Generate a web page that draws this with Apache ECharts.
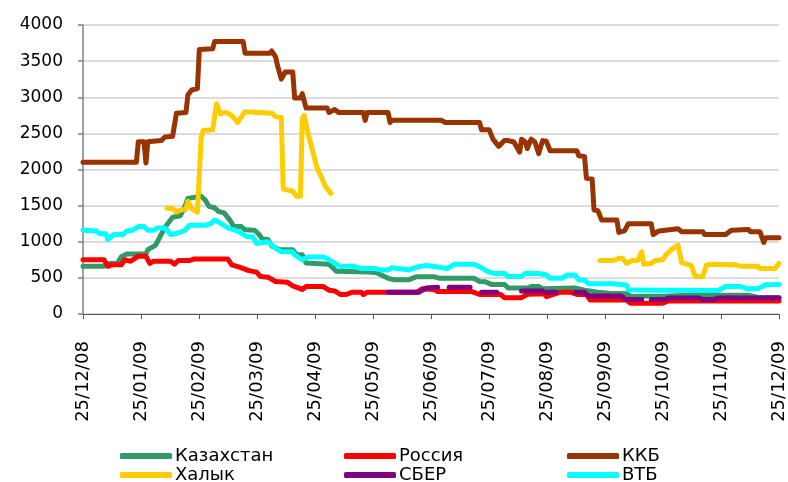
<!DOCTYPE html>
<html>
<head>
<meta charset="utf-8">
<script src="https://cdn.jsdelivr.net/npm/echarts@6/dist/echarts.min.js"></script>
<style>
  html, body { margin: 0; padding: 0; background: #fff; }
  #chart { width: 788px; height: 482px; }
</style>
</head>
<body>
<div id="chart"></div>
<script>
// x axis ticks: the 25th of every month
var tickLabels = ['25/12/08', '25/01/09', '25/02/09', '25/03/09', '25/04/09', '25/05/09',
  '25/06/09', '25/07/09', '25/08/09', '25/09/09', '25/10/09', '25/11/09', '25/12/09']
var startDate = '2008-12-25'
var endDate = '2009-12-25'

var seriesNames = ['Казахстан', 'Россия', 'ККБ', 'Халык', 'СБЕР', 'ВТБ']

var kazakhstan = [
  ['2008-12-25', 660], ['2009-01-05', 660], ['2009-01-07', 700], ['2009-01-12', 700], ['2009-01-14', 790],
  ['2009-01-17', 830], ['2009-01-27', 830], ['2009-01-28', 890], ['2009-02-01', 950], ['2009-02-04', 1100],
  ['2009-02-06', 1200], ['2009-02-10', 1340], ['2009-02-14', 1360], ['2009-02-16', 1460], ['2009-02-18', 1600],
  ['2009-02-25', 1630], ['2009-02-27', 1580], ['2009-03-01', 1490], ['2009-03-04', 1470], ['2009-03-06', 1420],
  ['2009-03-09', 1400], ['2009-03-12', 1300], ['2009-03-14', 1210], ['2009-03-18', 1210], ['2009-03-20', 1165],
  ['2009-03-25', 1160], ['2009-03-27', 1110], ['2009-03-29', 1040], ['2009-04-01', 1030], ['2009-04-03', 940],
  ['2009-04-07', 890], ['2009-04-14', 890], ['2009-04-16', 820], ['2009-04-19', 820], ['2009-04-21', 705],
  ['2009-05-03', 690], ['2009-05-07', 590], ['2009-05-24', 580], ['2009-05-28', 570], ['2009-06-03', 494],
  ['2009-06-06', 475], ['2009-06-14', 475], ['2009-06-18', 517], ['2009-06-27', 517], ['2009-06-30', 494],
  ['2009-07-18', 494], ['2009-07-21', 450], ['2009-07-24', 448], ['2009-07-27', 410], ['2009-08-03', 410],
  ['2009-08-05', 360], ['2009-08-15', 360], ['2009-08-17', 380], ['2009-08-21', 380], ['2009-08-23', 350],
  ['2009-09-09', 360], ['2009-09-14', 330], ['2009-09-21', 300], ['2009-09-27', 286], ['2009-10-06', 280],
  ['2009-10-08', 250], ['2009-10-25', 245], ['2009-11-07', 260], ['2009-12-09', 260], ['2009-12-14', 230],
  ['2009-12-25', 230]
]

var russia = [
  ['2008-12-25', 750], ['2009-01-05', 750], ['2009-01-07', 660], ['2009-01-09', 680], ['2009-01-14', 680],
  ['2009-01-16', 750], ['2009-01-19', 730], ['2009-01-23', 800], ['2009-01-27', 800], ['2009-01-29', 700],
  ['2009-01-31', 730], ['2009-02-09', 730], ['2009-02-11', 690], ['2009-02-13', 740], ['2009-02-19', 740],
  ['2009-02-21', 760], ['2009-03-11', 760], ['2009-03-13', 680], ['2009-03-17', 650], ['2009-03-22', 600],
  ['2009-03-26', 580], ['2009-03-28', 520], ['2009-04-01', 510], ['2009-04-05', 450], ['2009-04-11', 440],
  ['2009-04-14', 390], ['2009-04-19', 340], ['2009-04-21', 380], ['2009-04-30', 380], ['2009-05-03', 330],
  ['2009-05-06', 320], ['2009-05-09', 270], ['2009-05-12', 270], ['2009-05-15', 300], ['2009-05-20', 300],
  ['2009-05-21', 270], ['2009-05-23', 300], ['2009-06-18', 300], ['2009-06-21', 350], ['2009-06-27', 340],
  ['2009-06-29', 310], ['2009-07-17', 310], ['2009-07-21', 270], ['2009-08-01', 270], ['2009-08-03', 226],
  ['2009-08-12', 226], ['2009-08-15', 272], ['2009-08-24', 280], ['2009-08-25', 240], ['2009-09-01', 300],
  ['2009-09-07', 300], ['2009-09-10', 270], ['2009-09-15', 270], ['2009-09-17', 194], ['2009-10-06', 194],
  ['2009-10-08', 150], ['2009-10-25', 150], ['2009-10-28', 180], ['2009-12-25', 180]
]

var kkb = [
  ['2008-12-25', 2100], ['2009-01-22', 2100], ['2009-01-23', 2385], ['2009-01-26', 2385], ['2009-01-27', 2090],
  ['2009-01-28', 2385], ['2009-02-04', 2400], ['2009-02-06', 2450], ['2009-02-10', 2460], ['2009-02-12', 2780],
  ['2009-02-17', 2790], ['2009-02-18', 3030], ['2009-02-20', 3100], ['2009-02-23', 3120], ['2009-02-24', 3660],
  ['2009-03-03', 3670], ['2009-03-04', 3770], ['2009-03-19', 3770], ['2009-03-20', 3610], ['2009-04-02', 3610],
  ['2009-04-03', 3640], ['2009-04-05', 3560], ['2009-04-06', 3440], ['2009-04-08', 3250], ['2009-04-10', 3350],
  ['2009-04-14', 3350], ['2009-04-15', 2990], ['2009-04-18', 2990], ['2009-04-19', 3050], ['2009-04-21', 2850],
  ['2009-05-02', 2850], ['2009-05-03', 2790], ['2009-05-06', 2830], ['2009-05-08', 2790], ['2009-05-21', 2790],
  ['2009-05-22', 2680], ['2009-05-23', 2790], ['2009-06-03', 2790], ['2009-06-04', 2650], ['2009-06-05', 2680],
  ['2009-07-01', 2680], ['2009-07-03', 2650], ['2009-07-21', 2650], ['2009-07-22', 2550], ['2009-07-26', 2550],
  ['2009-07-28', 2420], ['2009-07-31', 2320], ['2009-08-03', 2400], ['2009-08-05', 2400], ['2009-08-08', 2380],
  ['2009-08-11', 2240], ['2009-08-12', 2420], ['2009-08-14', 2380], ['2009-08-15', 2290], ['2009-08-17', 2420],
  ['2009-08-19', 2380], ['2009-08-21', 2220], ['2009-08-23', 2400], ['2009-08-25', 2390], ['2009-08-27', 2260],
  ['2009-09-10', 2260], ['2009-09-11', 2190], ['2009-09-14', 2180], ['2009-09-15', 1880], ['2009-09-18', 1870],
  ['2009-09-19', 1440], ['2009-09-21', 1430], ['2009-09-23', 1300], ['2009-10-01', 1300], ['2009-10-02', 1130],
  ['2009-10-05', 1150], ['2009-10-07', 1250], ['2009-10-19', 1250], ['2009-10-20', 1100], ['2009-10-23', 1150],
  ['2009-11-02', 1180], ['2009-11-04', 1140], ['2009-11-15', 1140], ['2009-11-16', 1100], ['2009-11-27', 1100],
  ['2009-11-30', 1160], ['2009-12-09', 1170], ['2009-12-10', 1140], ['2009-12-15', 1140], ['2009-12-17', 990],
  ['2009-12-18', 1055], ['2009-12-25', 1055]
]

// gap between early May and late September
var halyk = [
  ['2009-02-07', 1465], ['2009-02-10', 1460], ['2009-02-12', 1410], ['2009-02-14', 1440], ['2009-02-17', 1450],
  ['2009-02-18', 1560], ['2009-02-20', 1460], ['2009-02-23', 1410], ['2009-02-25', 2450], ['2009-02-26', 2540],
  ['2009-03-03', 2550], ['2009-03-05', 2910], ['2009-03-07', 2770], ['2009-03-10', 2790], ['2009-03-13', 2750],
  ['2009-03-16', 2650], ['2009-03-20', 2800], ['2009-04-03', 2780], ['2009-04-05', 2730], ['2009-04-08', 2720],
  ['2009-04-09', 1730], ['2009-04-14', 1700], ['2009-04-16', 1630], ['2009-04-18', 1630], ['2009-04-19', 2700],
  ['2009-04-20', 2750], ['2009-04-22', 2500], ['2009-04-25', 2200], ['2009-04-27', 2000], ['2009-04-29', 1900],
  ['2009-05-01', 1770], ['2009-05-04', 1670], ['2009-05-05', null],
  ['2009-09-22', 740], ['2009-09-29', 740], ['2009-10-02', 770], ['2009-10-04', 770], ['2009-10-06', 700],
  ['2009-10-09', 740], ['2009-10-12', 740], ['2009-10-14', 860], ['2009-10-15', 690], ['2009-10-19', 700],
  ['2009-10-21', 740], ['2009-10-25', 750], ['2009-10-27', 830], ['2009-10-30', 900], ['2009-11-02', 950],
  ['2009-11-04', 710], ['2009-11-09', 670], ['2009-11-11', 520], ['2009-11-15', 520], ['2009-11-17', 680],
  ['2009-11-20', 690], ['2009-12-02', 680], ['2009-12-05', 660], ['2009-12-14', 660], ['2009-12-15', 630],
  ['2009-12-23', 630], ['2009-12-25', 700]
]

// broken line: missing days are null
var sber = [
  ['2009-06-03', 300], ['2009-06-19', 300], ['2009-06-23', 360], ['2009-06-29', 370], ['2009-07-02', null],
  ['2009-07-05', 370], ['2009-07-16', 370], ['2009-07-19', null],
  ['2009-07-22', 300], ['2009-07-30', 300], ['2009-08-06', null],
  ['2009-08-12', 320], ['2009-08-23', 320], ['2009-08-24', null],
  ['2009-08-25', 300], ['2009-08-30', 300], ['2009-09-04', null],
  ['2009-09-09', 300], ['2009-09-14', 300], ['2009-09-16', 250], ['2009-10-03', 250], ['2009-10-06', 200],
  ['2009-10-14', 200], ['2009-10-16', null],
  ['2009-10-19', 200], ['2009-10-26', 200], ['2009-10-28', 220], ['2009-11-13', 220], ['2009-11-15', 200],
  ['2009-11-20', 200], ['2009-11-23', 220], ['2009-12-25', 220]
]

var vtb = [
  ['2008-12-25', 1160], ['2009-01-01', 1150], ['2009-01-03', 1110], ['2009-01-06', 1110], ['2009-01-07', 1030],
  ['2009-01-10', 1100], ['2009-01-15', 1100], ['2009-01-17', 1150], ['2009-01-20', 1160], ['2009-01-23', 1210],
  ['2009-01-26', 1210], ['2009-01-28', 1160], ['2009-01-31', 1160], ['2009-02-02', 1190], ['2009-02-06', 1190],
  ['2009-02-09', 1100], ['2009-02-11', 1110], ['2009-02-16', 1150], ['2009-02-19', 1230], ['2009-02-27', 1230],
  ['2009-03-02', 1250], ['2009-03-04', 1300], ['2009-03-07', 1260], ['2009-03-11', 1190], ['2009-03-16', 1150],
  ['2009-03-21', 1070], ['2009-03-24', 1070], ['2009-03-26', 980], ['2009-04-01', 1000], ['2009-04-05', 910],
  ['2009-04-08', 860], ['2009-04-14', 860], ['2009-04-15', 820], ['2009-04-19', 750], ['2009-04-22', 790],
  ['2009-04-30', 790], ['2009-05-03', 750], ['2009-05-09', 655], ['2009-05-12', 660], ['2009-05-16', 660],
  ['2009-05-20', 630], ['2009-05-27', 630], ['2009-05-30', 610], ['2009-06-03', 610], ['2009-06-05', 640],
  ['2009-06-08', 630], ['2009-06-14', 610], ['2009-06-18', 650], ['2009-06-23', 670], ['2009-06-29', 650],
  ['2009-07-04', 630], ['2009-07-08', 690], ['2009-07-18', 690], ['2009-07-22', 640], ['2009-07-25', 590],
  ['2009-07-28', 565], ['2009-08-03', 560], ['2009-08-05', 520], ['2009-08-12', 520], ['2009-08-14', 565],
  ['2009-08-21', 560], ['2009-08-25', 540], ['2009-08-27', 495], ['2009-09-02', 495], ['2009-09-05', 540],
  ['2009-09-09', 540], ['2009-09-11', 470], ['2009-09-14', 470], ['2009-09-16', 420], ['2009-09-29', 420],
  ['2009-10-06', 400], ['2009-10-07', 335], ['2009-10-19', 330], ['2009-11-23', 325], ['2009-11-27', 380],
  ['2009-12-05', 380], ['2009-12-08', 350], ['2009-12-14', 350], ['2009-12-18', 405], ['2009-12-25', 410]
]

var colors = ['#339966', '#FF0000', '#993300', '#FFCC00', '#800080', '#00FFFF']
var seriesData = [kazakhstan, russia, kkb, halyk, sber, vtb]

function toTime (s) {
  var p = s.split('-')
  return Date.UTC(+p[0], +p[1] - 1, +p[2])
}
var minTime = toTime(startDate)
var maxTime = toTime(endDate)
// 12 equal steps between the two ends, one per month label
var step = (maxTime - minTime) / (tickLabels.length - 1)

var myChart = echarts.init(document.getElementById('chart'))

// legend: 3 columns x 2 rows, one legend box per entry
var legendLeft = [120, 344, 567]
var legendTop = [447, 466]
var legends = seriesNames.map(function (name, i) {
  return {
    left: legendLeft[i % 3],
    top: legendTop[Math.floor(i / 3)],
    data: [name],
    icon: 'roundRect',
    itemWidth: 52,
    itemHeight: 6,
    itemGap: 0,
    padding: 0,
    textStyle: { fontSize: 18, color: '#000', padding: [0, 0, 0, -2] }
  }
})

var option = {
  animation: false,
  color: colors,
  textStyle: { fontFamily: 'DejaVu Sans' },
  grid: { left: 83, right: 7, top: 25, bottom: 168 },
  legend: legends,
  xAxis: {
    type: 'value',
    min: minTime,
    max: maxTime,
    interval: step,
    axisLabel: {
      rotate: 90,
      margin: 27,
      fontSize: 18,
      color: '#000',
      formatter: function (v) {
        var i = Math.round((v - minTime) / step)
        return tickLabels[i] || ''
      }
    },
    splitLine: { lineStyle: { color: 'rgba(0,0,0,0)' } }
  },
  yAxis: {
    type: 'value',
    min: 0,
    max: 4000,
    interval: 500,
    axisLine: { show: true, lineStyle: { color: '#808080', width: 1.5 } },
    axisTick: { show: true, length: 5, lineStyle: { color: '#808080', width: 1.5 } },
    axisLabel: {
      fontSize: 17,
      color: '#000',
      margin: 20,
      formatter: function (v) { return String(v) }
    },
    splitLine: { lineStyle: { color: '#d0d0d0', width: 1.5 } }
  },
  series: seriesNames.map(function (name, i) {
    return {
      name: name,
      type: 'line',
      data: seriesData[i].map(function (d) { return [toTime(d[0]), d[1]] }),
      showSymbol: false,
      connectNulls: false,
      lineStyle: { width: 5, color: colors[i], cap: 'round', join: 'round' },
      itemStyle: { color: colors[i] }
    }
  })
}

myChart.setOption(option)
</script>
</body>
</html>
